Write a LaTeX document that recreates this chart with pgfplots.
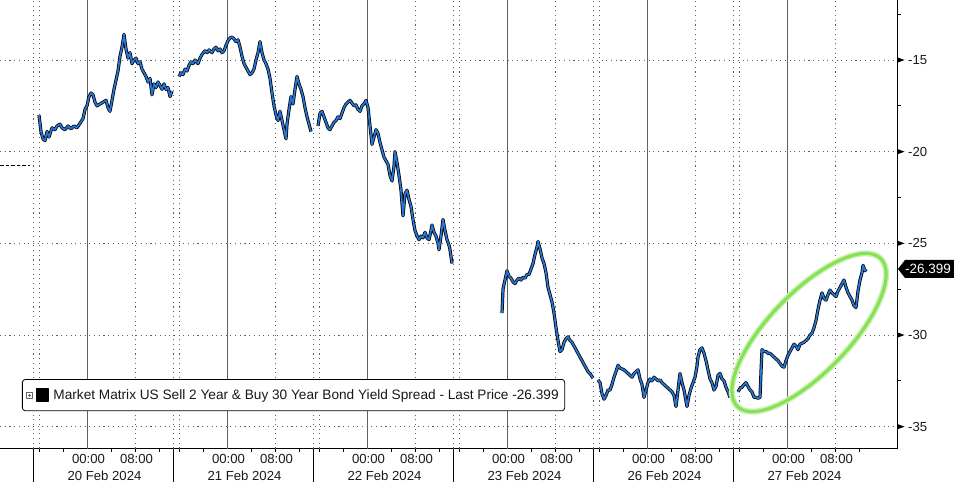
\documentclass[border=0pt]{standalone}
\usepackage{pgfplots}
\pgfplotsset{compat=1.18}
\usepackage{pgfplotstable}
\usepackage{fontspec}
\setmainfont{Liberation Sans}

\definecolor{lineblue}{RGB}{40,118,210}
\definecolor{gridgray}{RGB}{95,95,95}
\definecolor{hlgreen}{RGB}{135,225,85}

\pgfplotstableread{
x y
39 -18.0
41 -18.9
43 -19.3
45 -19.4
47 -18.9
49 -19.2
52 -18.7
55 -18.8
57 -18.6
60 -18.5
62 -18.7
65 -18.8
68 -18.6
71 -18.75
74 -18.6
77 -18.7
80 -18.45
83 -18.2
85 -17.7
87 -17.5
89 -17.0
91 -16.8
93 -16.9
95 -17.3
97 -17.5
100 -17.4
103 -17.3
106 -17.2
108 -17.6
110 -17.8
112 -17.2
114 -16.6
116 -16.1
118 -15.6
120 -14.8
122 -14.3
124 -13.6
126 -14.4
128 -14.9
130 -14.6
132 -15.2
134 -15.0
136 -14.9
138 -15.2
140 -15.1
142 -15.5
144 -15.7
146 -15.9
148 -16.2
150 -16.0
152 -16.9
154 -16.3
156 -16.5
158 -16.2
160 -16.4
162 -16.6
164 -16.3
166 -16.6
168 -16.5
170 -17.0
172 -16.7
}\segA

\pgfplotstableread{
x y
179 -15.9
181 -15.7
183 -15.8
185 -15.5
187 -15.6
189 -15.3
191 -15.1
193 -15.2
195 -15.0
198 -15.2
200 -14.9
202 -14.7
205 -14.5
207 -14.6
209 -14.45
212 -14.6
214 -14.4
216 -14.3
218 -14.5
220 -14.4
222 -14.6
224 -14.5
226 -14.2
228 -13.95
230 -13.8
232 -13.75
234 -13.85
236 -14.0
238 -13.9
240 -14.3
242 -14.8
244 -15.2
246 -15.4
248 -15.6
250 -15.8
252 -15.7
254 -15.5
256 -15.0
258 -14.6
260 -14.0
262 -14.6
264 -15.0
266 -15.2
268 -15.5
270 -16.0
272 -16.8
274 -17.5
276 -18.0
278 -18.3
280 -17.8
282 -18.3
284 -18.8
286 -19.3
287 -18.5
289 -17.7
291 -17.0
293 -17.4
295 -16.6
297 -15.9
299 -16.3
301 -16.6
303 -17.0
305 -17.6
307 -18.1
309 -18.5
311 -18.9
}\segB

\pgfplotstableread{
x y
318 -18.6
320 -17.9
322 -17.8
324 -18.1
326 -18.4
328 -18.7
330 -18.8
332 -18.6
334 -18.4
336 -18.3
338 -18.1
340 -18.2
342 -17.9
344 -17.6
346 -17.4
348 -17.3
350 -17.2
352 -17.35
354 -17.5
356 -17.45
358 -17.7
360 -17.8
362 -17.5
364 -17.4
366 -17.2
368 -17.6
370 -18.6
372 -19.6
374 -19.2
376 -18.8
378 -19.0
380 -19.5
382 -19.9
384 -20.3
386 -20.5
388 -20.7
390 -21.3
392 -21.6
394 -20.8
395 -20.0
397 -20.6
399 -21.3
401 -22.1
403 -23.5
405 -22.3
407 -22.1
409 -22.6
411 -23.0
413 -23.7
415 -24.3
417 -24.6
419 -24.8
421 -24.6
423 -24.7
425 -24.4
427 -24.7
429 -24.8
431 -24.3
432 -24.0
434 -24.4
436 -24.6
438 -25.0
439 -25.35
441 -24.6
443 -23.7
445 -24.3
447 -24.8
449 -25.1
450 -25.35
452 -26.1
}\segC

\pgfplotstableread{
x y
502 -28.8
503 -27.5
505 -27.0
507 -26.5
509 -26.8
511 -26.9
513 -27.1
515 -27.2
517 -27.0
519 -26.9
521 -27.0
523 -26.85
525 -26.9
527 -26.7
529 -26.7
531 -26.4
533 -26.1
535 -25.6
537 -25.2
538 -24.9
540 -25.3
542 -25.8
544 -26.1
546 -26.6
548 -27.4
550 -27.8
552 -28.2
554 -28.8
556 -29.6
558 -30.3
560 -30.9
562 -30.8
564 -30.4
566 -30.2
568 -30.1
570 -30.3
572 -30.4
574 -30.6
576 -30.8
578 -31.0
580 -31.2
582 -31.4
584 -31.6
586 -31.8
588 -32.0
590 -32.1
593 -32.35
}\segD

\pgfplotstableread{
x y
598 -32.45
600 -32.6
602 -33.2
604 -33.5
606 -33.3
608 -33.0
610 -33.0
612 -32.7
614 -32.3
616 -32.0
618 -31.65
620 -31.8
622 -31.85
624 -31.9
626 -32.0
628 -32.1
630 -32.2
632 -32.3
634 -32.1
636 -32.0
638 -31.9
640 -32.4
642 -32.7
644 -33.4
646 -33.0
648 -32.6
650 -32.4
652 -32.5
654 -32.3
656 -32.4
658 -32.5
660 -32.45
662 -32.6
664 -32.7
666 -32.8
668 -32.9
670 -33.0
672 -33.1
674 -33.3
676 -33.9
678 -33.0
680 -32.1
682 -32.6
684 -33.0
686 -33.6
687 -33.9
689 -33.3
691 -32.9
693 -32.6
695 -32.3
697 -31.7
698 -31.2
700 -30.8
702 -30.7
704 -31.0
706 -31.4
708 -31.9
710 -32.4
712 -32.6
714 -33.0
716 -32.8
718 -32.2
720 -32.1
722 -32.4
724 -32.5
726 -32.85
728 -33.1
730 -33.4
}\segE

\pgfplotstableread{
x y
738 -33.1
740 -32.9
742 -32.85
744 -32.7
746 -32.6
748 -32.8
750 -33.0
752 -33.1
754 -33.4
756 -33.4
758 -33.45
760 -33.4
761 -32.0
762 -30.8
764 -30.9
766 -30.9
768 -31.0
770 -31.0
772 -31.1
774 -31.2
776 -31.3
778 -31.4
780 -31.55
782 -31.7
784 -31.75
786 -31.4
788 -31.1
790 -30.9
792 -30.7
794 -30.5
796 -30.6
798 -30.8
800 -30.5
802 -30.45
804 -30.4
806 -30.3
808 -30.2
810 -30.0
812 -29.9
814 -29.6
816 -29.2
818 -28.6
820 -28.1
822 -27.7
824 -28.0
826 -28.1
828 -27.8
830 -27.55
832 -27.7
834 -27.8
836 -27.9
838 -27.6
840 -27.4
842 -27.2
844 -27.0
846 -27.4
848 -27.7
850 -27.9
852 -28.1
854 -28.4
856 -28.5
858 -27.6
860 -27.0
862 -26.6
863 -26.2
865 -26.5
866 -26.399
}\segF

\begin{document}
\begin{tikzpicture}
\begin{axis}[
  at={(0,0)}, anchor=north west,
  scale only axis, width=897bp, height=448.5bp,
  xmin=0, xmax=897, ymin=-36.191, ymax=-11.727,
  clip=false,
  axis x line*=bottom, axis y line*=right,
  axis line style={black, line width=0.9bp},
  ytick={-35,-30,-25,-20,-15},
  yticklabels={-35,-30,-25,-20,-15},
  minor ytick={-32.5,-27.5,-22.5,-17.5,-12.5},
  ymajorgrids,
  major grid style={gridgray, line width=0.7bp, dash pattern=on 1.1bp off 3.6bp},
  xtick={87,135,227,275,367,415,507,555,647,695,787,835},
  xticklabels={00:00,08:00,00:00,08:00,00:00,08:00,00:00,08:00,00:00,08:00,00:00,08:00},
  minor xtick={39,63,111,135,159,179,203,251,275,299,319,343,391,415,439,459,483,531,555,579,599,623,671,695,719,739,763,811,835,859},
  extra x ticks={103,243,383,523,663,803},
  extra x tick labels={20 Feb 2024,21 Feb 2024,22 Feb 2024,23 Feb 2024,26 Feb 2024,27 Feb 2024},
  extra x tick style={major tick length=0pt, xticklabel style={yshift=-16bp}},
  tick align=outside,
  major tick length=0pt, minor tick length=3.5bp,
  tick style={black, line width=0.7bp},
  ticklabel style={font=\fontsize{13.2}{15}\selectfont, text=black!90},
  xticklabel style={inner sep=0pt, anchor=north, yshift=-6bp, xshift=1.5bp},
  yticklabel style={inner sep=0pt, anchor=west, xshift=11bp},
  legend style={at={(axis description cs:0.0245,0.1549)}, anchor=north west,
    draw=black, line width=0.8bp, rounded corners=3bp, fill=white,
    inner xsep=4bp, inner ysep=8bp,
    nodes={inner sep=2bp, font=\fontsize{13.7}{15}\selectfont, text=black!90},
    /tikz/every odd column/.append style={column sep=2bp},
    legend cell align=left},
]
% vertical grid lines
\pgfplotsinvokeforeach{87,227,367,507,647,787}{
  \draw[black!62, line width=0.8bp] (axis cs:#1,-36.191) -- (axis cs:#1,-11.727);
}
\pgfplotsinvokeforeach{33,39,135,173,179,275,313,319,415,453,459,555,593,599,695,733,739,835}{
  \draw[gridgray, line width=0.7bp, dash pattern=on 1.1bp off 3.6bp] (axis cs:#1,-36.191) -- (axis cs:#1,-11.727);
}
% section separators below axis
\pgfplotsinvokeforeach{33,173,313,453,593,733}{
  \draw[black, line width=0.8bp] (axis cs:#1,-36.191) -- ++(0bp,-34bp);
}
% previous close marker
\addplot[black, line width=0.9bp, dash pattern=on 3.5bp off 2bp, forget plot] coordinates {(0,-20.77) (30,-20.77)};

% series: dark outline + blue core
\addplot[black, line width=3.2bp, line join=round, forget plot] table {\segA};
\addplot[black, line width=3.2bp, line join=round, forget plot] table {\segB};
\addplot[black, line width=3.2bp, line join=round, forget plot] table {\segC};
\addplot[black, line width=3.2bp, line join=round, forget plot] table {\segD};
\addplot[black, line width=3.2bp, line join=round, forget plot] table {\segE};
\addplot[black, line width=3.2bp, line join=round, forget plot] table {\segF};
\addplot[lineblue, line width=1.7bp, line join=round, forget plot] table {\segA};
\addplot[lineblue, line width=1.7bp, line join=round, forget plot] table {\segB};
\addplot[lineblue, line width=1.7bp, line join=round, forget plot] table {\segC};
\addplot[lineblue, line width=1.7bp, line join=round, forget plot] table {\segD};
\addplot[lineblue, line width=1.7bp, line join=round, forget plot] table {\segE};
\addplot[lineblue, line width=1.7bp, line join=round,
  legend image code/.code={
    \draw[black!60, line width=0.4bp, fill=white, sharp corners] (1bp,-3bp) rectangle (7bp,3bp);
    \draw[black!60, line width=0.4bp, sharp corners] (2.5bp,0bp) -- (5.5bp,0bp) (4bp,-1.5bp) -- (4bp,1.5bp);
    \fill[black, sharp corners] (11bp,-6bp) rectangle (23bp,6bp);
  }] table {\segF};
\addlegendentry{Market Matrix US Sell 2 Year \& Buy 30 Year Bond Yield Spread - Last Price -26.399}

% highlight ellipse
\draw[hlgreen!45, line width=6bp, rotate around={46:(axis cs:809,-29.864)}] (axis cs:809,-29.864) ellipse [x radius=103bp, y radius=40bp];
\draw[hlgreen, line width=3bp, rotate around={46:(axis cs:809,-29.864)}] (axis cs:809,-29.864) ellipse [x radius=103bp, y radius=40bp];

% y tick markers
\pgfplotsinvokeforeach{-15,-20,-25,-30,-35}{
  \fill[black] (axis cs:897,#1) ++(0bp,2.8bp) -- ++(7.5bp,-2.8bp) -- ++(-7.5bp,-2.8bp) -- cycle;
}
% last price tag
\fill[black] (axis cs:897,-26.399) ++(1bp,0bp) -- ++(7bp,9bp) -- ++(60bp,0bp) -- ++(0bp,-18bp) -- ++(-60bp,0bp) -- cycle;
\node[white, anchor=west, inner sep=0pt, font=\fontsize{13.5}{15}\selectfont, xshift=8bp] at (axis cs:897,-26.399) {-26.399};
\end{axis}
\pgfresetboundingbox
\path (0bp,0bp) rectangle (954bp,-482bp);
\end{tikzpicture}
\end{document}
